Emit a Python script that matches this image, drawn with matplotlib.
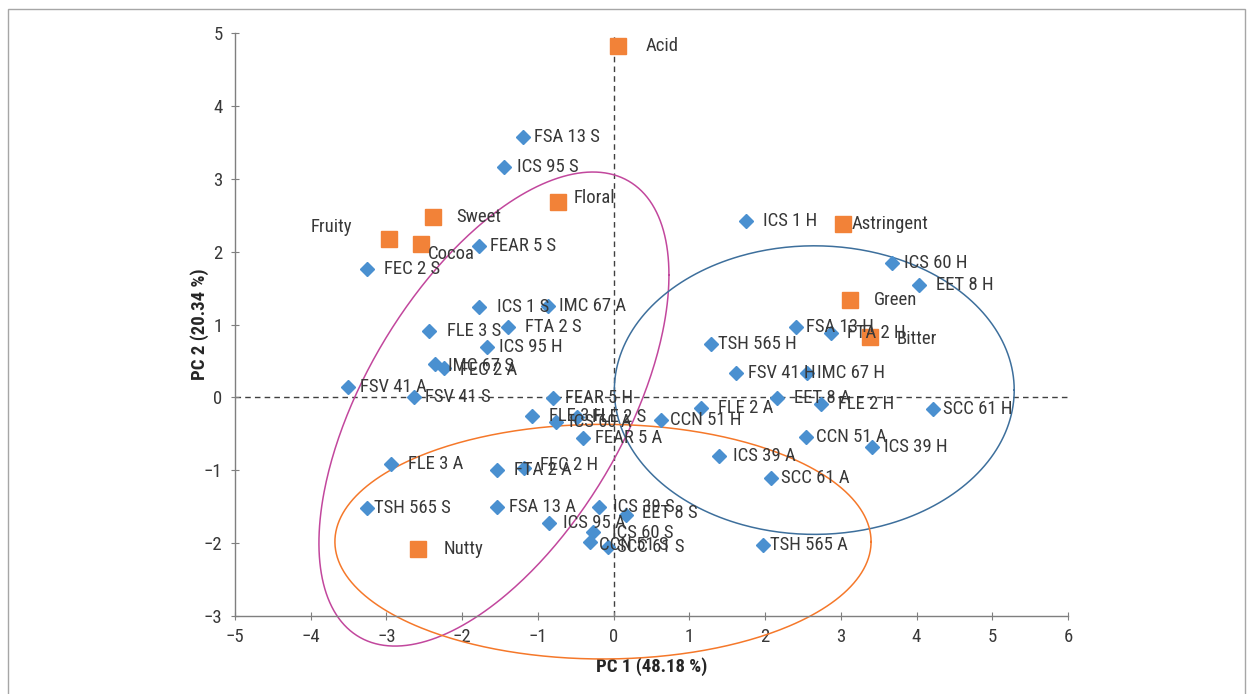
import numpy as np
import matplotlib.pyplot as plt
from matplotlib import font_manager
from matplotlib.patches import Rectangle

# pick a narrow font if one is installed (Roboto Condensed is closest)
def find_narrow():
    fonts = [f for f in font_manager.fontManager.ttflist
             if f.weight in (400, 'normal', 'regular') and f.style == 'normal']
    for want in ['roboto condensed', 'liberation sans narrow', 'open sans condensed',
                 'dejavu sans condensed']:
        for f in fonts:
            low = (f.name + ' ' + f.fname).lower().replace('-', ' ').replace('_', ' ')
            if want in low or want.replace(' ', '') in low.replace(' ', ''):
                return f
    for f in fonts:
        low = (f.name + ' ' + f.fname).lower()
        if 'narrow' in low or 'condensed' in low:
            return f
    return None

narrow = find_narrow()
if narrow is not None:
    plt.rcParams['font.family'] = [narrow.name, 'DejaVu Sans']
    plt.rcParams['font.stretch'] = narrow.stretch
else:
    plt.rcParams['font.family'] = ['DejaVu Sans']

# cultivar scores (blue diamonds)
cultivars = ['FSA 13 S', 'ICS 95 S', 'ICS 1 H', 'ICS 60 H', 'EET 8 H', 'FEAR 5 S',
             'FEC 2 S', 'ICS 1 S', 'IMC 67 A', 'FLE 3 S', 'FTA 2 S', 'ICS 95 H',
             'IMC 67 S', 'FEC 2 A', 'FSV 41 A', 'FSV 41 S', 'FEAR 5 H', 'FLE 3 H',
             'ICS 60 A', 'FLE 2 S', 'CCN 51 H', 'FEAR 5 A', 'FLE 2 A', 'EET 8 A',
             'FLE 2 H', 'SCC 61 H', 'CCN 51 A', 'ICS 39 H', 'ICS 39 A', 'SCC 61 A',
             'TSH 565 H', 'FSA 13 H', 'FTA 2 H', 'FSV 41 H', 'IMC 67 H', 'FLE 3 A',
             'FTA 2 A', 'FEC 2 H', 'TSH 565 S', 'FSA 13 A', 'ICS 39 S', 'EET 8 S',
             'ICS 95 A', 'ICS 60 S', 'CCN 51 S', 'SCC 61 S', 'TSH 565 A']
pc1 = [-1.20, -1.45, 1.75, 3.67, 4.03, -1.78,
       -3.26, -1.78, -0.87, -2.44, -1.39, -1.67,
       -2.36, -2.24, -3.51, -2.64, -0.80, -1.08,
       -0.76, -0.48, 0.63, -0.40, 1.15, 2.16,
       2.74, 4.22, 2.54, 3.41, 1.39, 2.08,
       1.29, 2.41, 2.87, 1.61, 2.55, -2.94,
       -1.54, -1.18, -3.26, -1.54, -0.19, 0.16,
       -0.85, -0.27, -0.31, -0.07, 1.97]
pc2 = [3.57, 3.16, 2.42, 1.84, 1.54, 2.08,
       1.76, 1.24, 1.25, 0.91, 0.97, 0.69,
       0.46, 0.40, 0.14, 0.01, -0.01, -0.26,
       -0.34, -0.27, -0.31, -0.56, -0.14, -0.01,
       -0.09, -0.16, -0.54, -0.68, -0.80, -1.11,
       0.73, 0.97, 0.88, 0.33, 0.33, -0.91,
       -1.00, -0.97, -1.52, -1.50, -1.50, -1.61,
       -1.72, -1.85, -1.98, -2.05, -2.03]

# sensory attribute loadings (orange squares)
attributes = ['Acid', 'Floral', 'Sweet', 'Fruity', 'Cocoa', 'Astringent', 'Green', 'Bitter', 'Nutty']
attr_pc1 = [0.06, -0.74, -2.38, -2.96, -2.54, 3.03, 3.12, 3.39, -2.58]
attr_pc2 = [4.82, 2.68, 2.47, 2.17, 2.10, 2.38, 1.33, 0.83, -2.08]

# label offsets in pixels (dx, dy), default is (12, 0)
cult_offsets = {
    'ICS 1 H': (17, 0), 'EET 8 H': (17, 0), 'FEC 2 S': (17, 0), 'ICS 1 S': (18, 0),
    'FLE 3 S': (18, 0), 'FTA 2 S': (17, 0), 'FEC 2 A': (16, -2), 'IMC 67 S': (13, -2),
    'FLE 3 H': (17, 0), 'ICS 60 A': (13, 0), 'FLE 2 S': (15, 0), 'CCN 51 H': (9, 0),
    'FLE 2 A': (17, 0), 'EET 8 A': (17, 0), 'FLE 2 H': (17, 0), 'SCC 61 H': (10, 0),
    'CCN 51 A': (10, 0), 'ICS 39 A': (14, 0), 'SCC 61 A': (10, 0), 'TSH 565 H': (7, 0),
    'FSA 13 H': (10, 0), 'FTA 2 H': (16, 0), 'IMC 67 H': (10, 0), 'FLE 3 A': (17, 0),
    'FTA 2 A': (17, 0), 'FEC 2 H': (16, 3), 'TSH 565 S': (7, 0), 'ICS 39 S': (14, 0),
    'EET 8 S': (16, 2), 'ICS 95 A': (14, 0), 'ICS 60 S': (19, -1), 'CCN 51 S': (9, -3),
    'SCC 61 S': (9, 0), 'TSH 565 A': (7, 0), 'ICS 95 S': (13, 0), 'FSA 13 S': (11, 0),
    'FEAR 5 S': (11, 0), 'IMC 67 A': (11, 0), 'FSV 41 S': (11, 0),
}
attr_offsets = {
    'Acid': (28, 0), 'Floral': (16, 4), 'Sweet': (23, 0), 'Fruity': (-79, 12),
    'Cocoa': (7, -10), 'Astringent': (9, 0), 'Green': (24, 0), 'Bitter': (26, -2),
    'Nutty': (25, 0),
}

# group ellipses: centre and covariance-like shape (sxx, syy, sxy) in data units
ellipses = [
    ((-1.58, -0.16), (5.34, 10.58, 4.25), '#c2479d'),
    ((2.65, 0.10), (2.64 ** 2, 1.98 ** 2, 0.0), '#3d6f9c'),
    ((-0.14, -1.98), (3.54 ** 2, 1.61 ** 2, 0.0), '#f5782a'),
]

fig = plt.figure(figsize=(12.51, 6.94), dpi=100)
ax = fig.add_axes([0.1878, 0.1124, 0.6659, 0.84])
fig.patches.append(Rectangle((8 / 1251, -0.01), 1237 / 1251, 1 - 9 / 694 + 0.01,
                             transform=fig.transFigure, fill=False,
                             edgecolor='#a6a6a6', linewidth=1.0))

txt_color = '#383838'
fs = 13.5

ax.axhline(0, color='#404040', linestyle=(0, (4, 3)), linewidth=1.0, zorder=1)
ax.axvline(0, color='#404040', linestyle=(0, (4, 3)), linewidth=1.0, zorder=1)

t = np.linspace(0, 2 * np.pi, 400)
for (cx, cy), (sxx, syy, sxy), col in ellipses:
    hx = np.sqrt(sxx)
    ex = cx + hx * np.cos(t)
    ey = cy + (sxy / hx) * np.cos(t) + np.sqrt(syy - sxy ** 2 / sxx) * np.sin(t)
    ax.plot(ex, ey, color=col, linewidth=1.1, zorder=2, clip_on=False)

ax.plot(pc1, pc2, linestyle='none', marker='D', markersize=7, color='#4a90d0', zorder=3)
ax.plot(attr_pc1, attr_pc2, linestyle='none', marker='s', markersize=11.5,
        color='#f28238', zorder=3)

for name, x, y in zip(cultivars, pc1, pc2):
    dx, dy = cult_offsets.get(name, (12, 0))
    ax.annotate(name, (x, y), xytext=(dx, dy), textcoords='offset pixels',
                ha='left', va='center', fontsize=fs, color=txt_color, zorder=4)

for name, x, y in zip(attributes, attr_pc1, attr_pc2):
    dx, dy = attr_offsets[name]
    ax.annotate(name, (x, y), xytext=(dx, dy), textcoords='offset pixels',
                ha='left', va='center', fontsize=fs, color=txt_color, zorder=4)

ax.set_xlim(-5, 6)
ax.set_ylim(-3, 5)
ax.set_xticks(np.arange(-5, 7, 1))
ax.set_yticks(np.arange(-3, 6, 1))
for s in ['top', 'right']:
    ax.spines[s].set_visible(False)
for s in ['left', 'bottom']:
    ax.spines[s].set_color('#7f7f7f')
    ax.spines[s].set_linewidth(1.0)
ax.tick_params(direction='inout', length=6, color='#7f7f7f', labelsize=fs,
               labelcolor=txt_color)
ax.tick_params(axis='x', pad=6)
ax.tick_params(axis='y', pad=6)

ax.set_xlabel('PC 1 (48.18 %)', fontsize=fs, fontweight='bold', color='#262626', labelpad=7.5)
ax.set_ylabel('PC 2 (20.34 %)', fontsize=fs, fontweight='bold', color='#262626', labelpad=-4)

fig.savefig('out.png', dpi=100)
